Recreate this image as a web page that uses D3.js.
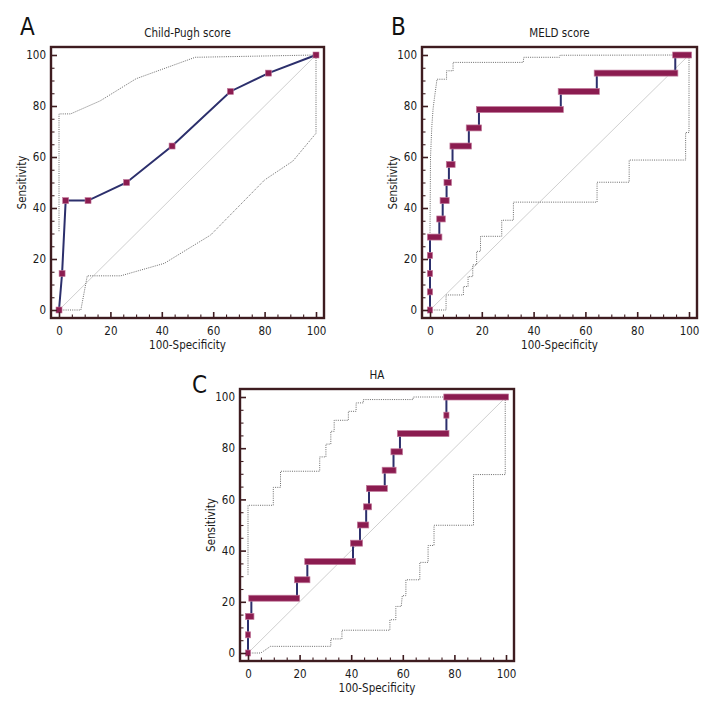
<!DOCTYPE html>
<html>
<head>
<meta charset="utf-8">
<script src="https://cdn.jsdelivr.net/npm/d3@7/dist/d3.min.js"></script>
<style>
  html, body { margin: 0; padding: 0; background: #fff; }
  svg { display: block; }
  text { font-family: 'Liberation Sans Narrow', 'DejaVu Sans Condensed', 'Arial Narrow', sans-serif; }
</style>
</head>
<body>
<svg id="chart" width="720" height="720"></svg>
<script>
// ---------- DATA ----------
const tickValues = [0, 20, 40, 60, 80, 100];
const panelTitles = ["Child-Pugh score", "MELD score", "HA"];
const panelLetters = ["A", "B", "C"];
const xAxisTitle = "100-Specificity";
const yAxisTitle = "Sensitivity";

// Panel A: Child-Pugh score ROC points
const childFpr  = [0, 1.2, 2.6, 11.3, 26.3, 44, 66.7, 81.5, 100];
const childSens = [0, 14.3, 42.9, 42.9, 50, 64.3, 85.7, 92.9, 100];
const childUpper = [[0,30.9],[0,76.9],[4.5,76.9],[16,82],[30,90.7],[53,99.1],[100,100]];
const childLower = [[0,0],[8.5,0],[11,13.4],[24,13.4],[41,18.3],[59,29.4],[80,51],[91,58.4],[100,69.3],[100,100]];

// Panel B: MELD score (step ROC: sensitivity levels and fpr at end of each level)
const meldSens   = [0, 7.1, 14.3, 21.4, 28.6, 35.7, 42.9, 50, 57.1, 64.3, 71.4, 78.6, 85.7, 92.9, 100];
const meldFprEnd = [0, 0, 0, 0, 3.6, 4.9, 6.4, 7.3, 8.7, 15, 18.9, 50.5, 64.4, 94.7, 100];
const meldUpper = [[0,30.3],[0.2,60],[0.7,72],[1.2,79],[1.7,83],[2.7,90.5],[6.4,90.5],[6.4,93.8],[8.9,93.8],[8.9,97.1],[36,97.1],[36.2,99.1],[50,99.1],[50.2,99.9],[100,100]];
const meldLower = [[0,0],[6.2,0],[6.2,5.9],[12.9,5.9],[12.9,9.2],[14.7,9.2],[14.7,13.1],[16.5,13.1],[16.5,17.7],[18,17.7],[18,23],[19.5,23],[19.5,28.9],[27.7,28.9],[27.7,35.2],[32.2,35.2],[32.2,42.3],[64.5,42.3],[64.5,50.1],[76.9,50.1],[76.9,58.8],[98.7,58.8],[98.7,69.6],[100,69.6],[100,100]];

// Panel C: HA
const haSens   = [0, 7.1, 14.3, 21.4, 28.6, 35.7, 42.9, 50, 57.1, 64.3, 71.4, 78.6, 85.7, 92.9, 100];
const haFprEnd = [0, 0, 1.3, 19, 23, 40.7, 43.4, 45.8, 46.9, 53, 56.4, 58.9, 76.9, 76.9, 100];
const haUpper = [[0,30.6],[0,57.7],[9.8,57.7],[9.8,64.7],[12.6,64.7],[12.6,71],[27.8,71],[27.8,76.6],[30.2,76.6],[30.2,81.6],[32.1,81.6],[32.1,86.6],[33.4,86.6],[33.4,90.9],[38.9,90.9],[38.9,94.4],[41.9,94.4],[41.9,97.7],[44.7,97.7],[44.7,99],[64,99],[64,100],[100,100]];
const haLower = [[0,0],[4.9,0],[6,0.7],[8.7,2.6],[32.1,2.6],[32.1,5.5],[36.4,5.5],[36.4,8.9],[55,8.9],[55,13],[57.3,13],[57.3,18.2],[59.4,18.2],[59.8,22.4],[61.2,22.4],[61.2,28.6],[66.6,28.6],[66.6,35.4],[69.8,35.4],[69.8,42],[72.1,42],[72.1,49.9],[87.4,49.9],[87.4,69.7],[99.7,69.7],[99.7,100],[100,100]];

// ---------- STYLE / LAYOUT ----------
const FRAME = "#3e1c20";
const NAVY = "#2c2f6c";
const MAROON = "#8b1c50";
const MAROON_EDGE = "#c27a9c";
const CI = "#6a6a6a";
const DIAG = "#c9c9c9";
const PAD = 8;

const svg = d3.select("#chart");

const panels = [
  { left: 51,  top: 47,  right: 324, bottom: 318, letterX: 20,  letterY: 35,  title: panelTitles[0], letter: panelLetters[0], type: "line",
    fpr: childFpr, sens: childSens, upper: childUpper, lower: childLower },
  { left: 422, top: 47,  right: 697, bottom: 318, letterX: 391, letterY: 35,  title: panelTitles[1], letter: panelLetters[1], type: "step",
    sens: meldSens, fprEnd: meldFprEnd, upper: meldUpper, lower: meldLower },
  { left: 240, top: 389, right: 514, bottom: 661, letterX: 192, letterY: 393, title: panelTitles[2], letter: panelLetters[2], type: "step",
    sens: haSens, fprEnd: haFprEnd, upper: haUpper, lower: haLower }
];

panels.forEach(p => {
  const g = svg.append("g");
  const x = d3.scaleLinear().domain([0, 100]).range([p.left + PAD, p.right - PAD]);
  const y = d3.scaleLinear().domain([0, 100]).range([p.bottom - PAD, p.top + PAD]);
  const line = d3.line().x(d => x(d[0])).y(d => y(d[1]));

  // diagonal reference
  g.append("path").attr("d", line([[0,0],[100,100]]))
    .attr("fill", "none").attr("stroke", DIAG).attr("stroke-width", 0.9);

  // confidence bounds
  [p.upper, p.lower].forEach(arr => {
    g.append("path").attr("d", line(arr))
      .attr("fill", "none").attr("stroke", CI).attr("stroke-width", 1)
      .attr("stroke-dasharray", "1,1.2");
  });

  if (p.type === "line") {
    const pts = p.fpr.map((f, i) => [f, p.sens[i]]);
    g.append("path").attr("d", line(pts))
      .attr("fill", "none").attr("stroke", NAVY).attr("stroke-width", 2);
    g.selectAll("rect.mk").data(pts).join("rect")
      .attr("x", d => x(d[0]) - 3).attr("y", d => y(d[1]) - 3)
      .attr("width", 6).attr("height", 6)
      .attr("fill", MAROON).attr("stroke", MAROON_EDGE).attr("stroke-width", 0.6);
  } else {
    const levels = p.sens.map((s, i) => ({
      s, start: i === 0 ? 0 : p.fprEnd[i - 1], end: p.fprEnd[i]
    }));
    // vertical steps
    levels.slice(0, -1).forEach((l, i) => {
      g.append("line")
        .attr("x1", x(l.end)).attr("x2", x(l.end))
        .attr("y1", y(l.s)).attr("y2", y(levels[i + 1].s))
        .attr("stroke", NAVY).attr("stroke-width", 2);
    });
    // horizontal bars
    g.selectAll("rect.bar").data(levels).join("rect")
      .attr("x", d => x(d.start) - 2.6)
      .attr("width", d => x(d.end) - x(d.start) + 5.2)
      .attr("y", d => y(d.s) - 3).attr("height", 6)
      .attr("fill", MAROON).attr("stroke", MAROON_EDGE).attr("stroke-width", 0.7);
  }

  // frame
  g.append("rect")
    .attr("x", p.left).attr("y", p.top)
    .attr("width", p.right - p.left).attr("height", p.bottom - p.top)
    .attr("fill", "none").attr("stroke", FRAME).attr("stroke-width", 2.4);

  // inward ticks: major and minor
  const minor = d3.range(0, 101, 5).filter(v => v % 20 !== 0);
  const tickGroups = [
    { vals: tickValues, len: 6, w: 1.6 },
    { vals: minor, len: 3.5, w: 1.1 }
  ];
  tickGroups.forEach(t => {
    const ax = g.append("g").attr("transform", `translate(0,${p.bottom})`)
      .call(d3.axisTop(x).tickValues(t.vals).tickSize(t.len).tickFormat(""));
    ax.select(".domain").remove();
    ax.selectAll("line").attr("stroke", FRAME).attr("stroke-width", t.w);
    const ay = g.append("g").attr("transform", `translate(${p.left},0)`)
      .call(d3.axisRight(y).tickValues(t.vals).tickSize(t.len).tickFormat(""));
    ay.select(".domain").remove();
    ay.selectAll("line").attr("stroke", FRAME).attr("stroke-width", t.w);
  });

  // tick labels
  const xl = g.append("g").attr("transform", `translate(0,${p.bottom})`)
    .call(d3.axisBottom(x).tickValues(tickValues).tickSize(0).tickPadding(9));
  xl.select(".domain").remove();
  xl.selectAll("text").attr("font-size", 11.5).attr("fill", "#1a1a1a")
    .style("font-family", "'Liberation Sans Narrow', 'DejaVu Sans Condensed', sans-serif");
  const yl = g.append("g").attr("transform", `translate(${p.left},0)`)
    .call(d3.axisLeft(y).tickValues(tickValues).tickSize(0).tickPadding(5));
  yl.select(".domain").remove();
  yl.selectAll("text").attr("font-size", 11.5).attr("fill", "#1a1a1a")
    .style("font-family", "'Liberation Sans Narrow', 'DejaVu Sans Condensed', sans-serif");

  // axis titles
  g.append("text").attr("x", (p.left + p.right) / 2).attr("y", p.bottom + 31)
    .attr("text-anchor", "middle").attr("font-size", 11.5).attr("fill", "#1a1a1a").text(xAxisTitle);
  g.append("text")
    .attr("transform", `translate(${p.left - 25},${(p.top + p.bottom) / 2}) rotate(-90)`)
    .attr("text-anchor", "middle").attr("font-size", 11.5).attr("fill", "#1a1a1a").text(yAxisTitle);

  // chart title
  g.append("text").attr("x", (p.left + p.right) / 2).attr("y", p.top - 10)
    .attr("text-anchor", "middle").attr("font-size", 11.5).attr("fill", "#1a1a1a").text(p.title);

  // panel letter
  g.append("text").attr("x", p.letterX).attr("y", p.letterY)
    .attr("font-size", 24).attr("fill", "#111").text(p.letter);
});
</script>
</body>
</html>
